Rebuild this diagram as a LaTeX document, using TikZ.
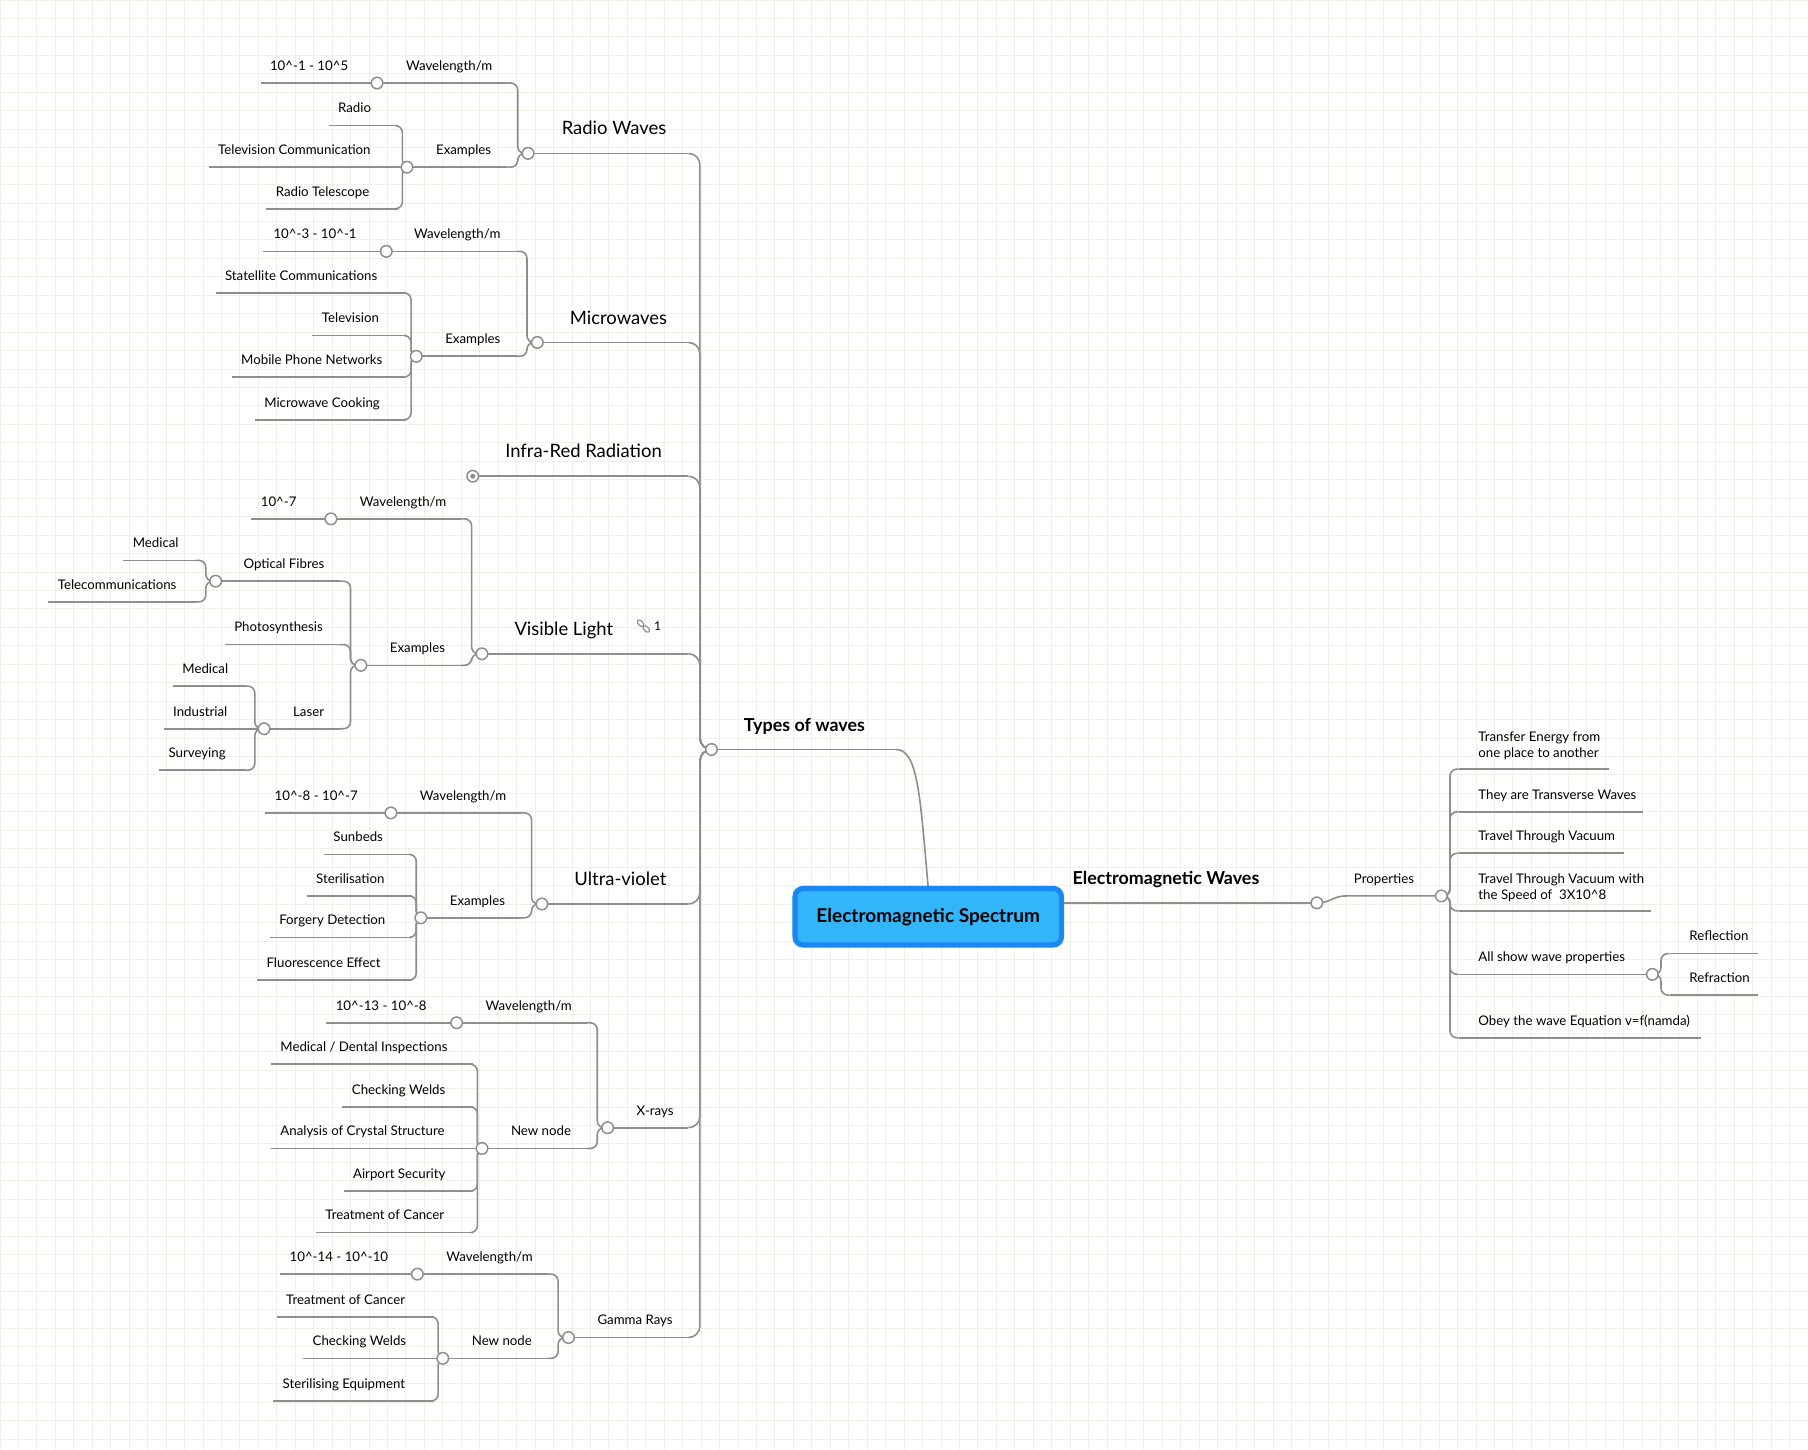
\documentclass[tikz,border=0pt]{standalone}
\usepackage{fontspec}
\setmainfont{Lato}
\definecolor{lc}{HTML}{8E8E8E}
\definecolor{gridc}{HTML}{EDF1E6}
\definecolor{rootfill}{HTML}{33B5FA}
\definecolor{rootdraw}{HTML}{1A88F2}
\newcommand\ca{\textasciicircum}
\tikzset{
 ln/.style={draw=lc,line width=1.4pt},
 lbl/.style={anchor=base west,inner sep=0pt,font=\fontsize{11.5}{13}\selectfont},
 big/.style={anchor=base west,inner sep=0pt,yshift=5pt,font=\fontsize{16}{18}\selectfont},
 bld/.style={anchor=base west,inner sep=0pt,yshift=5pt,font=\fontsize{15.5}{18}\selectfont\bfseries},
 jc/.style={circle,draw=lc,line width=1.3pt,fill=white,minimum size=10pt,inner sep=0pt},
}
% name, style, x1, x2, y, textx, text
\newcommand\lf[7]{\draw[ln] (#3,#5) -- (#4,#5); \node[#2] (#1) at (#6,#5-11) {#7};}
% connector
\newcommand\cn[5][6]{\draw[ln,rounded corners=#1] (#2,#3) -- ({(#2+#4)/2},#3) -- ({(#2+#4)/2},#5) -- (#4,#5);}
\newcommand\jc[3]{\node[jc] (#1) at (#2,#3) {};}
\begin{document}
\begin{tikzpicture}[x=1pt,y=-1pt]
\useasboundingbox (0,0) rectangle (1568,1257);
\fill[white] (0,0) rectangle (1568,1257);
\foreach \gx in {0,16,...,1568} {\draw[gridc,line width=0.7pt] (\gx,0) -- (\gx,1257);}
\foreach \gy in {0,16,...,1257} {\draw[gridc,line width=0.7pt] (0,\gy) -- (1568,\gy);}
% ---------- Radio waves
\lf{a1}{lbl}{226}{327}{72}{234}{10\ca-1 - 10\ca5}
\lf{a2}{lbl}{327}{440}{72}{352}{Wavelength/m}
\lf{a3}{lbl}{353}{440}{145}{378}{Examples}
\lf{a4}{lbl}{285}{345}{109}{293}{Radio}
\lf{a5}{lbl}{181}{353}{145}{189}{Television Communication}
\lf{a6}{lbl}{231}{345}{181}{239}{Radio Telescope}
\cn{345}{109}{353}{145}\cn{345}{181}{353}{145}
\cn{440}{72}{458}{133}\cn{440}{145}{458}{133}
\lf{rw}{big}{458}{597}{133}{487}{Radio Waves}
\cn[10]{597}{133}{617}{650}
% ---------- Microwaves
\lf{b1}{lbl}{228}{335}{218}{237}{10\ca-3 - 10\ca-1}
\lf{b2}{lbl}{335}{448}{218}{359}{Wavelength/m}
\lf{b3}{lbl}{361}{448}{309}{386}{Examples}
\lf{b4}{lbl}{187}{352}{254}{195}{Statellite Communications}
\lf{b5}{lbl}{271}{352}{291}{279}{Television}
\lf{b6}{lbl}{201}{352}{327}{209}{Mobile Phone Networks}
\lf{b7}{lbl}{221}{352}{364}{229}{Microwave Cooking}
\cn{352}{254}{361}{309}\cn{352}{291}{361}{309}\cn{352}{327}{361}{309}\cn{352}{364}{361}{309}
\cn{448}{218}{466}{297}\cn{448}{309}{466}{297}
\lf{mw}{big}{466}{597}{297}{494}{Microwaves}
\cn[10]{597}{297}{617}{650}
% ---------- Infra-red
\lf{ir}{big}{410}{597}{413}{438}{Infra-Red Radiation}
\cn[10]{597}{413}{617}{650}
% ---------- Visible
\lf{c1}{lbl}{218}{287}{450}{226}{10\ca-7}
\lf{c2}{lbl}{287}{400}{450}{312}{Wavelength/m}
\lf{c3}{lbl}{313}{400}{577}{338}{Examples}
\lf{c4}{lbl}{187}{295}{504}{211}{Optical Fibres}
\lf{c5}{lbl}{107}{170}{486}{115}{Medical}
\lf{c6}{lbl}{42}{170}{522}{50}{Telecommunications}
\cn{170}{486}{187}{504}\cn{170}{522}{187}{504}
\lf{c7}{lbl}{195}{295}{559}{203}{Photosynthesis}
\lf{c8}{lbl}{229}{295}{632}{254}{Laser}
\lf{c9}{lbl}{150}{213}{595}{158}{Medical}
\lf{c10}{lbl}{142}{229}{632}{150}{Industrial}
\lf{c11}{lbl}{138}{213}{668}{146}{Surveying}
\cn{213}{595}{229}{632}\cn{213}{668}{229}{632}
\cn{295}{504}{313}{577}\cn{295}{559}{313}{577}\cn{295}{632}{313}{577}
\cn{400}{450}{418}{567}\cn{400}{577}{418}{567}
\lf{vl}{big}{418}{597}{567}{446}{Visible Light}
\cn[10]{597}{567}{617}{650}
\begin{scope}[shift={(558,543)},rotate=-45,lc,line width=1pt]
 \draw (-3.5,0) ellipse (3.5 and 2);
 \draw (3.5,0) ellipse (3.5 and 2);
\end{scope}
\node[lbl,font=\fontsize{10.5}{12}\selectfont] (lk) at (567,547) {1};
% ---------- Ultra-violet
\lf{d1}{lbl}{230}{339}{705}{238}{10\ca-8 - 10\ca-7}
\lf{d2}{lbl}{339}{452}{705}{364}{Wavelength/m}
\lf{d3}{lbl}{365}{452}{796}{390}{Examples}
\lf{d4}{lbl}{281}{357}{741}{289}{Sunbeds}
\lf{d5}{lbl}{266}{357}{777}{274}{Sterilisation}
\lf{d6}{lbl}{234}{357}{813}{242}{Forgery Detection}
\lf{d7}{lbl}{223}{357}{850}{231}{Fluorescence Effect}
\cn{357}{741}{365}{796}\cn{357}{777}{365}{796}\cn{357}{813}{365}{796}\cn{357}{850}{365}{796}
\cn{452}{705}{470}{784}\cn{452}{796}{470}{784}
\lf{uv}{big}{470}{597}{784}{498}{Ultra-violet}
\cn[10]{597}{784}{617}{650}
% ---------- X-rays
\lf{e1}{lbl}{283}{396}{887}{291}{10\ca-13 - 10\ca-8}
\lf{e2}{lbl}{396}{509}{887}{421}{Wavelength/m}
\lf{e3}{lbl}{418}{509}{996}{443}{New node}
\lf{e4}{lbl}{235}{410}{923}{243}{Medical / Dental Inspections}
\lf{e5}{lbl}{297}{410}{960}{305}{Checking Welds}
\lf{e6}{lbl}{235}{418}{996}{243}{Analysis of Crystal Structure}
\lf{e7}{lbl}{298}{410}{1033}{306}{Airport Security}
\lf{e8}{lbl}{274}{410}{1069}{282}{Treatment of Cancer}
\cn{410}{923}{418}{996}\cn{410}{960}{418}{996}\cn{410}{1033}{418}{996}\cn{410}{1069}{418}{996}
\cn{509}{887}{527}{978}\cn{509}{996}{527}{978}
\lf{xr}{lbl}{527}{597}{978}{552}{X-rays}
\cn[10]{597}{978}{617}{650}
% ---------- Gamma
\lf{f1}{lbl}{243}{362}{1105}{251}{10\ca-14 - 10\ca-10}
\lf{f2}{lbl}{362}{475}{1105}{387}{Wavelength/m}
\lf{f3}{lbl}{384}{475}{1178}{409}{New node}
\lf{f4}{lbl}{240}{376}{1142}{248}{Treatment of Cancer}
\lf{f5}{lbl}{263}{384}{1178}{271}{Checking Welds}
\lf{f6}{lbl}{237}{376}{1215}{245}{Sterilising Equipment}
\cn{376}{1142}{384}{1178}\cn{376}{1215}{384}{1178}
\cn{475}{1105}{493}{1160}\cn{475}{1178}{493}{1160}
\lf{gr}{lbl}{493}{597}{1160}{518}{Gamma Rays}
\cn[10]{597}{1160}{617}{650}
% ---------- Types of waves
\lf{tw}{bld}{617}{777}{650}{645}{Types of waves}
\draw[ln] (777,650) .. controls (796,650) and (798,690) .. (805,770);
% ---------- Root
\node[draw=rootdraw,fill=rootfill,line width=4.5pt,rounded corners=7pt,minimum width=231pt,minimum height=49pt,font=\fontsize{16.5}{18}\selectfont\bfseries] (root) at (805,795) {Electromagnetic Spectrum};
% ---------- Right side
\draw[ln] (root.east |- 0,783) -- (1142,783);
\node[bld] (ew) at (930,772) {Electromagnetic Waves};
\draw[ln] (1142,783) .. controls (1155,783) and (1155,777) .. (1168,777) -- (1250,777);
\node[lbl] (pr) at (1174,766) {Properties};
\draw[ln] (1265,667) -- (1395,667);
\node[lbl,align=left,anchor=south west,font=\fontsize{11.5}{14}\selectfont] (g1) at (1282,659) {Transfer Energy from\\one place to another};
\lf{g2}{lbl}{1265}{1425}{704}{1282}{They are Transverse Waves}
\lf{g3}{lbl}{1265}{1408}{740}{1282}{Travel Through Vacuum}
\draw[ln] (1265,790) -- (1432,790);
\node[lbl,align=left,anchor=south west,font=\fontsize{11.5}{14}\selectfont] (g4) at (1282,782) {Travel Through Vacuum with\\the Speed of\ \ 3X10\ca8};
\lf{g5}{lbl}{1265}{1433}{845}{1282}{All show wave properties}
\lf{g6}{lbl}{1265}{1475}{900}{1282}{Obey the wave Equation v=f(namda)}
\foreach \yy in {667,704,740,790,845,900} {\cn{1250}{777}{1265}{\yy}}
\lf{h1}{lbl}{1448}{1525}{827}{1465}{Reflection}
\lf{h2}{lbl}{1448}{1525}{863}{1465}{Refraction}
\cn{1433}{845}{1448}{827}\cn{1433}{845}{1448}{863}
% ---------- junction circles
\jc{j1}{327}{72}\jc{j2}{353}{145}\jc{j3}{458}{133}
\jc{j4}{335}{218}\jc{j5}{361}{309}\jc{j6}{466}{297}
\jc{j7}{410}{413}\fill[lc] (410,413) circle (2.2);
\jc{j8}{287}{450}\jc{j9}{313}{577}\jc{j10}{187}{504}\jc{j11}{229}{632}\jc{j12}{418}{567}
\jc{j13}{339}{705}\jc{j14}{365}{796}\jc{j15}{470}{784}
\jc{j16}{396}{887}\jc{j17}{418}{996}\jc{j18}{527}{978}
\jc{j19}{362}{1105}\jc{j20}{384}{1178}\jc{j21}{493}{1160}
\jc{j22}{617}{650}\jc{j23}{1142}{783}\jc{j24}{1250}{777}\jc{j25}{1433}{845}
\end{tikzpicture}
\end{document}
